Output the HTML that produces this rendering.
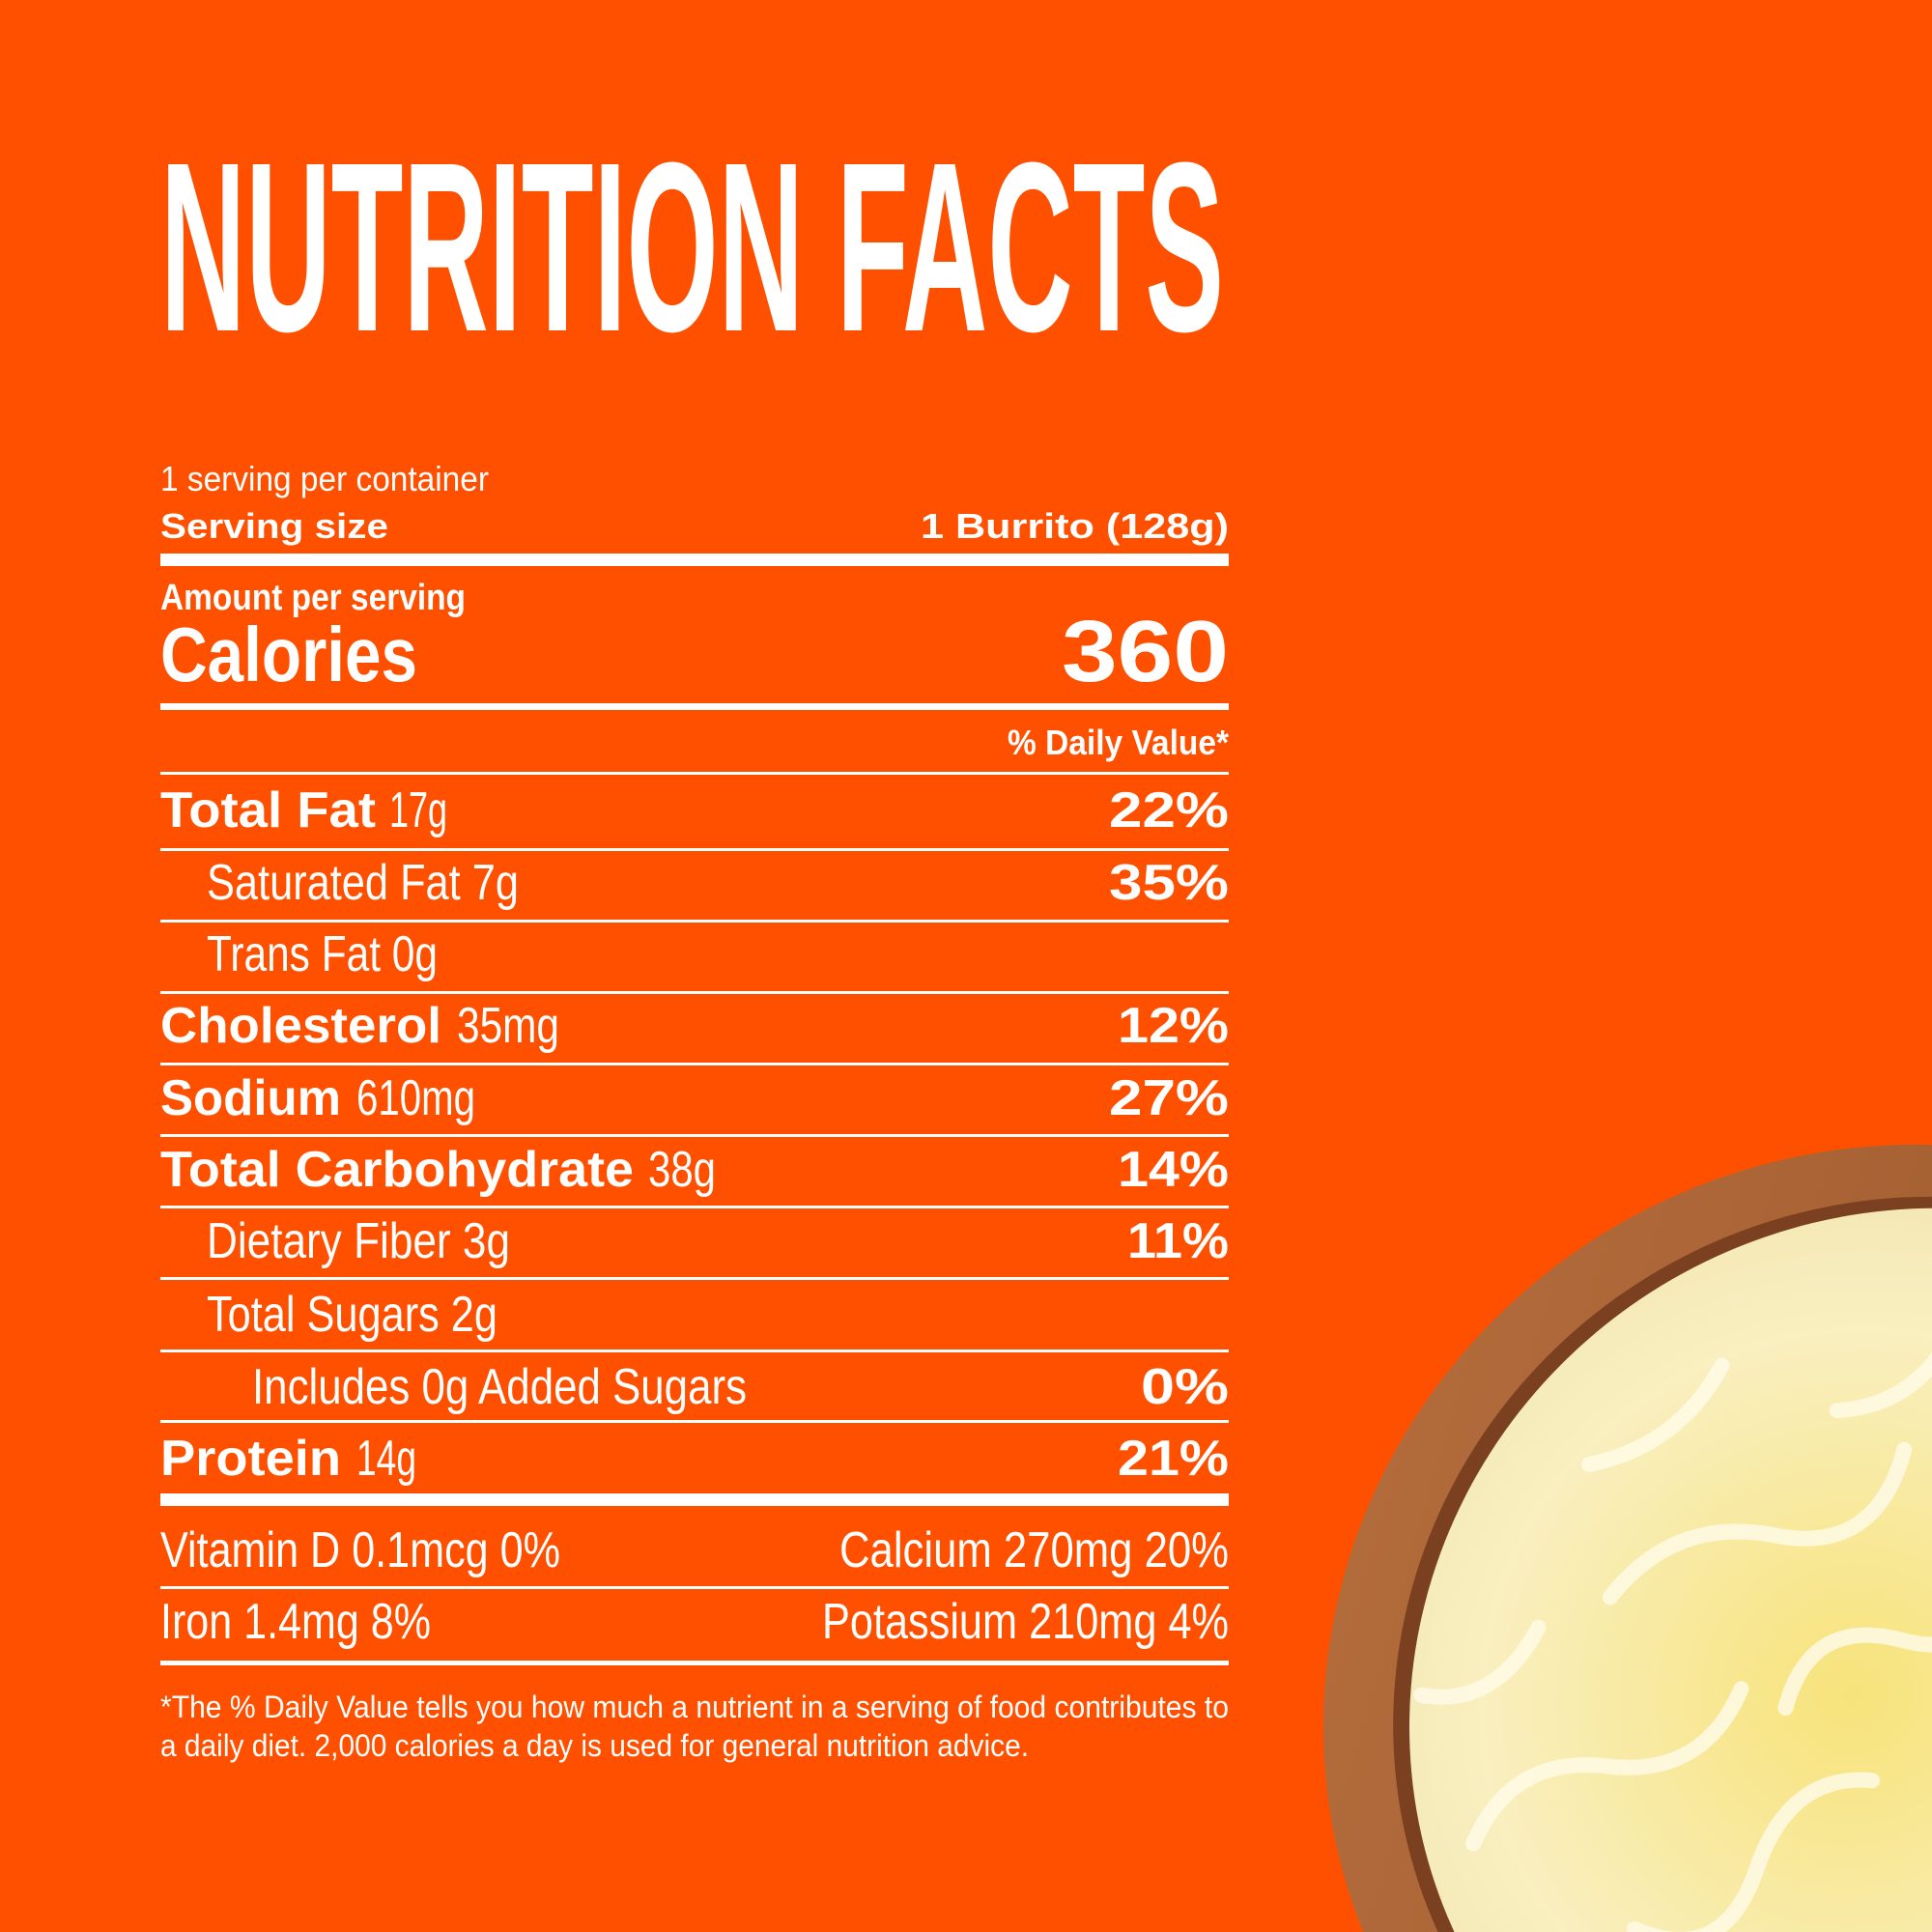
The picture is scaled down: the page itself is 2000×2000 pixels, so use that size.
<!DOCTYPE html>
<html><head><meta charset="utf-8"><style>
html,body{margin:0;padding:0;background:#FF5000;width:2000px;height:2000px;overflow:hidden}
svg{display:block}
text{font-family:"Liberation Sans",sans-serif;fill:#fff}
.b{font-weight:bold}
.n{font-weight:normal}
</style></head><body>
<svg width="2000" height="2000" viewBox="0 0 2000 2000" xmlns="http://www.w3.org/2000/svg">
<defs>
<radialGradient id="ch" cx="0.45" cy="0.45" r="0.6">
<stop offset="0" stop-color="#f7e37a"/><stop offset="0.6" stop-color="#f9efbf"/><stop offset="1" stop-color="#efe2ad"/>
</radialGradient>
<linearGradient id="wd" x1="0" y1="0" x2="1" y2="1">
<stop offset="0" stop-color="#b8703f"/><stop offset="0.5" stop-color="#a45f32"/><stop offset="1" stop-color="#8a4a25"/>
</linearGradient>
<clipPath id="cl"><rect width="2000" height="2000"/></clipPath>
</defs>
<rect width="2000" height="2000" fill="#FF5000"/>
<text class="b" x="166" y="342" font-size="250" textLength="1101" lengthAdjust="spacingAndGlyphs">NUTRITION FACTS</text>

<text class="n" x="166" y="508" font-size="36" textLength="340" lengthAdjust="spacingAndGlyphs">1 serving per container</text>
<text class="b" x="166" y="557" font-size="36" textLength="236" lengthAdjust="spacingAndGlyphs">Serving size</text>
<text class="b" x="953" y="557" font-size="36" textLength="319" lengthAdjust="spacingAndGlyphs">1 Burrito (128g)</text>
<rect x="166" y="573" width="1106" height="13" fill="#fff"/>
<text class="b" x="166" y="631" font-size="38" textLength="316" lengthAdjust="spacingAndGlyphs">Amount per serving</text>
<text class="b" x="166" y="705" font-size="80" textLength="266" lengthAdjust="spacingAndGlyphs">Calories</text>
<text class="b" x="1099" y="705" font-size="90" textLength="173" lengthAdjust="spacingAndGlyphs">360</text>
<rect x="166" y="728" width="1106" height="7" fill="#fff"/>
<text class="b" x="1043" y="781" font-size="36" textLength="229" lengthAdjust="spacingAndGlyphs">% Daily Value*</text>
<g fill="#fff">
<rect x="166" y="799" width="1106" height="3"/>
<rect x="166" y="878" width="1106" height="3"/>
<rect x="166" y="952" width="1106" height="3"/>
<rect x="166" y="1026" width="1106" height="3"/>
<rect x="166" y="1100" width="1106" height="3"/>
<rect x="166" y="1174" width="1106" height="3"/>
<rect x="166" y="1248" width="1106" height="3"/>
<rect x="166" y="1322" width="1106" height="3"/>
<rect x="166" y="1397" width="1106" height="3"/>
<rect x="166" y="1470" width="1106" height="3"/>
<rect x="166" y="1546" width="1106" height="13"/>
<rect x="166" y="1642" width="1106" height="3"/>
<rect x="166" y="1719" width="1106" height="5"/>
</g>
<g font-size="52">
<text class="b" x="166" y="856" textLength="223" lengthAdjust="spacingAndGlyphs">Total Fat</text>
<text class="n" x="403" y="856" textLength="60" lengthAdjust="spacingAndGlyphs">17g</text>
<text class="b" x="1148" y="856" textLength="124" lengthAdjust="spacingAndGlyphs">22%</text>
<text class="n" x="214" y="931" textLength="323" lengthAdjust="spacingAndGlyphs">Saturated Fat 7g</text>
<text class="b" x="1148" y="931" textLength="124" lengthAdjust="spacingAndGlyphs">35%</text>
<text class="n" x="214" y="1005" textLength="239" lengthAdjust="spacingAndGlyphs">Trans Fat 0g</text>
<text class="b" x="166" y="1079" textLength="291" lengthAdjust="spacingAndGlyphs">Cholesterol</text>
<text class="n" x="473" y="1079" textLength="106" lengthAdjust="spacingAndGlyphs">35mg</text>
<text class="b" x="1157" y="1079" textLength="115" lengthAdjust="spacingAndGlyphs">12%</text>
<text class="b" x="166" y="1154" textLength="187" lengthAdjust="spacingAndGlyphs">Sodium</text>
<text class="n" x="369" y="1154" textLength="123" lengthAdjust="spacingAndGlyphs">610mg</text>
<text class="b" x="1148" y="1154" textLength="124" lengthAdjust="spacingAndGlyphs">27%</text>
<text class="b" x="166" y="1228" textLength="490" lengthAdjust="spacingAndGlyphs">Total Carbohydrate</text>
<text class="n" x="671" y="1228" textLength="70" lengthAdjust="spacingAndGlyphs">38g</text>
<text class="b" x="1157" y="1228" textLength="115" lengthAdjust="spacingAndGlyphs">14%</text>
<text class="n" x="214" y="1302" textLength="314" lengthAdjust="spacingAndGlyphs">Dietary Fiber 3g</text>
<text class="b" x="1167" y="1302" textLength="105" lengthAdjust="spacingAndGlyphs">11%</text>
<text class="n" x="214" y="1378" textLength="301" lengthAdjust="spacingAndGlyphs">Total Sugars 2g</text>
<text class="n" x="261" y="1453" textLength="512" lengthAdjust="spacingAndGlyphs">Includes 0g Added Sugars</text>
<text class="b" x="1181" y="1453" textLength="91" lengthAdjust="spacingAndGlyphs">0%</text>
<text class="b" x="166" y="1527" textLength="187" lengthAdjust="spacingAndGlyphs">Protein</text>
<text class="n" x="369" y="1527" textLength="62" lengthAdjust="spacingAndGlyphs">14g</text>
<text class="b" x="1157" y="1527" textLength="115" lengthAdjust="spacingAndGlyphs">21%</text>
<text class="n" x="166" y="1622" textLength="414" lengthAdjust="spacingAndGlyphs">Vitamin D 0.1mcg 0%</text>
<text class="n" x="869" y="1622" textLength="403" lengthAdjust="spacingAndGlyphs">Calcium 270mg 20%</text>
<text class="n" x="166" y="1696" textLength="280" lengthAdjust="spacingAndGlyphs">Iron 1.4mg 8%</text>
<text class="n" x="851" y="1696" textLength="421" lengthAdjust="spacingAndGlyphs">Potassium 210mg 4%</text>
</g>
<text class="n" x="166" y="1778" font-size="32" textLength="1106" lengthAdjust="spacingAndGlyphs">*The % Daily Value tells you how much a nutrient in a serving of food contributes to</text>
<text class="n" x="166" y="1818" font-size="32" textLength="899" lengthAdjust="spacingAndGlyphs">a daily diet. 2,000 calories a day is used for general nutrition advice.</text>

<g clip-path="url(#cl)">
<g transform="translate(1965,1770) rotate(-30)">
<ellipse cx="0" cy="0" rx="600" ry="580" fill="url(#wd)"/>
<ellipse cx="15" cy="10" rx="545" ry="528" fill="#7a4020"/>
<ellipse cx="20" cy="15" rx="535" ry="518" fill="url(#ch)"/>
<g fill="none" stroke="#fffbe6" stroke-width="16" stroke-linecap="round" opacity="0.85">
<path d="M-450 -100 q80 -60 160 0 t160 0"/>
<path d="M-350 60 q60 80 140 10 t150 -20"/>
<path d="M-200 -250 q100 -40 180 30 t160 -10"/>
<path d="M-480 150 q90 40 170 -20"/>
<path d="M-100 -60 q70 -70 140 0 q60 60 120 0"/>
<path d="M-300 250 q80 -50 170 10 t150 0"/>
<path d="M0 150 q60 60 130 -10 t140 20"/>
<path d="M-150 -380 q90 30 170 -20"/>
<path d="M100 -300 q80 40 160 -20"/>
<path d="M-420 -260 q60 50 140 0"/>
</g>
</g>
</g>
</svg>
</body></html>
